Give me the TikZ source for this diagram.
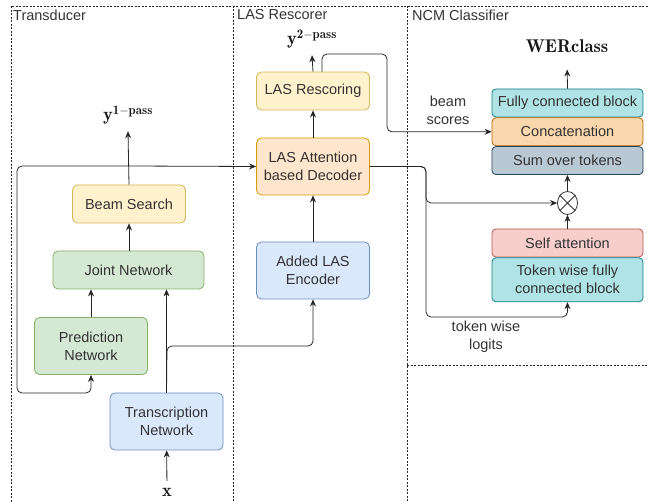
\documentclass[tikz,border=0pt]{standalone}
\usepackage{fontspec}
\setsansfont{Liberation Sans}
\usepackage{amsmath}
\usetikzlibrary{arrows.meta,positioning,calc,shapes.geometric}
\definecolor{yellowfill}{HTML}{FFF2CC}\definecolor{yellowline}{HTML}{D6B656}
\definecolor{greenfill}{HTML}{D5E8D4}\definecolor{greenline}{HTML}{82B366}
\definecolor{bluefill}{HTML}{DAE8FC}\definecolor{blueline}{HTML}{6C8EBF}
\definecolor{orangefill}{HTML}{FFE6CC}\definecolor{orangeline}{HTML}{D79B00}
\definecolor{tealfill}{HTML}{B0E3E6}\definecolor{tealline}{HTML}{0E8088}
\definecolor{peachfill}{HTML}{FAD7AC}\definecolor{peachline}{HTML}{B46504}
\definecolor{slatefill}{HTML}{BAC8D3}\definecolor{slateline}{HTML}{23445D}
\definecolor{pinkfill}{HTML}{F8CECC}\definecolor{pinkline}{HTML}{B85450}

\begin{document}
\begin{tikzpicture}[x=1pt,y=-1pt] % one unit is one pixel of the layout, y grows downwards
\tikzset{every node/.style={font=\sffamily\fontsize{14.5}{18}\selectfont, text=black!80}} % text of all boxes and labels
\tikzset{blk/.style={draw, rounded corners=5pt, line width=0.8pt, align=center, inner sep=0pt, minimum width=113pt, minimum height=38pt}}
\tikzset{tallblk/.style={blk, minimum height=57pt}} % two line boxes
\tikzset{ncm/.style={blk, rounded corners=4pt, minimum width=151pt, minimum height=28pt}} % stacked classifier blocks
\tikzset{lbl/.style={align=center, inner sep=0pt}}
\tikzset{mathlbl/.style={font=\fontsize{18.5}{21}\selectfont, text=black!90, inner sep=1pt, outer sep=6pt}}
\tikzset{arr/.style={-{Stealth[length=7pt,width=6pt]}, line width=0.8pt, black!85, rounded corners=5pt}}
\tikzset{frame/.style={black!85, line width=0.65pt, dash pattern=on 2pt off 1.5pt}}
\useasboundingbox (0,0) rectangle (649,502);

% dashed frames
\draw[frame] (11,502) -- (11,6) -- (649,6);
\draw[frame] (233,6) -- (233,502);
\draw[frame] (407,6) -- (407,502);
\draw[frame] (407,365) -- (649,365);
\node[anchor=base west, inner sep=0pt] (ttrans) at (13,21) {Transducer};
\node[anchor=base west, inner sep=0pt] (tlas) at (237,20) {LAS Rescorer};
\node[anchor=base west, inner sep=0pt] (tncm) at (412,21) {NCM Classifier};

% transducer
\node[blk, fill=yellowfill, draw=yellowline] (beam) at (129,204) {Beam Search};
\node[blk, fill=greenfill, draw=greenline, minimum width=151pt] (joint) at (128.5,270) {Joint Network};
\node[tallblk, fill=greenfill, draw=greenline] (pred) at (91,346) {Prediction\\Network};
\node[tallblk, fill=bluefill, draw=blueline] (trans) at (166.5,421.5) {Transcription\\Network};
\node[mathlbl] (y1) at (128,115) {$\mathbf{y}^{\mathbf{1-pass}}$};
\node[mathlbl] (xin) at (167,492) {$\mathbf{x}$};

% LAS rescorer
\node[blk, fill=yellowfill, draw=yellowline] (resc) at (313,91) {LAS Rescoring};
\node[tallblk, fill=orangefill, draw=orangeline] (dec) at (313,166.5) {LAS Attention\\based Decoder};
\node[tallblk, fill=bluefill, draw=blueline] (enc) at (313,270.5) {Added LAS\\Encoder};
\node[mathlbl] (y2) at (312,39) {$\mathbf{y}^{\mathbf{2-pass}}$};

% NCM classifier
\node[ncm, fill=tealfill, draw=tealline] (fc) at (567.5,103) {Fully connected block};
\node[ncm, fill=peachfill, draw=peachline, below=0pt of fc] (concat) {Concatenation};
\node[ncm, fill=slatefill, draw=slateline, below=0pt of concat] (sum) {Sum over tokens};
\node[draw=black!80, line width=0.8pt, ellipse, minimum width=20pt, minimum height=23pt, inner sep=0pt] (ot) at (567.5,203) {};
\draw[line width=0.8pt, black!80] (ot.45) -- (ot.225) (ot.135) -- (ot.315);
\node[ncm, fill=pinkfill, draw=pinkline] (sa) at (567.5,243) {Self attention};
\node[ncm, fill=tealfill, draw=tealline, minimum height=44pt, below=0pt of sa] (tok) {Token wise fully\\connected block};
\node[mathlbl] (wer) at (567,46) {$\mathbf{WERclass}$};
\node[lbl] (bsc) at (448,110) {beam\\scores};
\node[lbl] (tlg) at (486,337) {token wise\\logits};

% connectors
\coordinate (encin) at (167,346);
\coordinate (fb) at (128,166);
\coordinate (loop) at (17,393);
\coordinate (bsturn) at (387,54);
\coordinate (lgturn) at (426,317);
\draw[arr] (xin) -- (trans);
\draw[arr] (trans.north) -- (trans.north |- joint.south);
\draw[arr] (trans.north) -- (encin) -| (enc.south);
\draw[arr] (pred.north) -- (pred.north |- joint.south);
\draw[arr] (joint.north -| beam.south) -- (beam.south);
\draw[arr] (beam.north) -- (y1.south);
\draw[arr] (fb) -- (dec.west);
\draw[arr] (fb) -| (loop) -| (pred.south);
\draw[arr] (enc) -- (dec);
\draw[arr] (dec) -- (resc);
\draw[arr] (resc.north) -- (y2.south);
\draw[arr] ([xshift=9pt]resc.north) |- (bsturn) |- (concat.west);
\draw[arr] (dec.east) -| (lgturn) -| (tok.south);
\draw[arr] (dec.east) -| (lgturn |- ot.west) -- (ot.west);
\draw[arr] (sa) -- (ot);
\draw[arr] (ot) -- (sum);
\draw[arr, shorten >=10pt] (fc.north) -- (wer.south);
\end{tikzpicture}
\end{document}
